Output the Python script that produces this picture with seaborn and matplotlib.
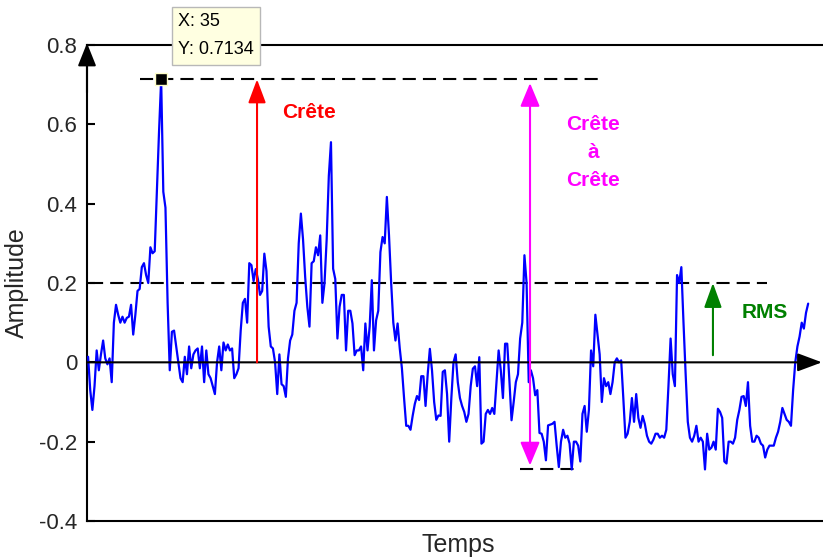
import numpy as np
import pandas as pd
import matplotlib
matplotlib.use("Agg")
import matplotlib.pyplot as plt
import seaborn as sns

# ---------------- data ----------------
amp_part1 = [0.014, -0.07, -0.12, -0.06, 0.03, -0.02, 0.02, 0.055, 0.01, -0.005,
             0.01, -0.05, 0.10, 0.145, 0.12, 0.10, 0.115, 0.10, 0.112, 0.115,
             0.145, 0.07, 0.12, 0.18, 0.185, 0.24, 0.25, 0.22, 0.20, 0.29,
             0.275, 0.28, 0.43, 0.58, 0.7134, 0.43, 0.39, 0.15, -0.02, 0.077,
             0.08, 0.04, 0.0, -0.04, -0.05, 0.014, -0.03, 0.04, -0.015, 0.02,
             0.03, 0.035, -0.015, 0.04, -0.05, 0.03]
amp_part2 = [-0.03, -0.04, -0.06, -0.08, 0.0, 0.04, -0.02, 0.05, 0.03, 0.045,
             0.03, 0.035, -0.04, -0.03, -0.015, 0.08, 0.15, 0.16, 0.10, 0.25,
             0.245, 0.205, 0.235, 0.21, 0.17, 0.18, 0.274, 0.23, 0.09, 0.04,
             0.035, 0.0, -0.08, 0.02, -0.055, -0.06, -0.087, 0.01, 0.055, 0.07,
             0.13, 0.15, 0.30, 0.375, 0.31, 0.215, 0.14, 0.09, 0.25, 0.255,
             0.29, 0.27, 0.32, 0.15, 0.20, 0.31]
amp_part3 = [0.47, 0.555, 0.236, 0.21, 0.06, 0.14, 0.17, 0.17, 0.03, 0.13,
             0.13, 0.098, 0.018, 0.03, 0.03, 0.04, -0.02, 0.098, 0.03, 0.09,
             0.207, 0.03, 0.106, 0.13, 0.278, 0.316, 0.30, 0.417, 0.32, 0.20,
             0.10, 0.055, 0.098, 0.035, -0.015, -0.09, -0.16, -0.16, -0.17, -0.135,
             -0.105, -0.085, -0.095, -0.035, -0.035, -0.11, -0.03, 0.034, -0.02, -0.10,
             -0.145, -0.134, -0.135, -0.024, -0.02, -0.08]
amp_part4 = [-0.2, -0.09, 0.0, 0.02, -0.05, -0.09, -0.11, -0.125, -0.15, -0.13,
             -0.06, -0.016, -0.01, -0.06, 0.013, -0.205, -0.2, -0.13, -0.12, -0.13,
             -0.115, -0.13, -0.05, 0.03, -0.02, -0.09, 0.047, 0.047, -0.045, -0.146,
             -0.1, -0.05, -0.03, 0.06, 0.1, 0.27, 0.2, -0.05, -0.02, -0.04,
             -0.083, -0.07, -0.178, -0.18, -0.2, -0.247, -0.159, -0.157, -0.155, -0.15,
             -0.21, -0.264, -0.2, -0.17, -0.19]
amp_part5 = [-0.185, -0.205, -0.27, -0.2, -0.2, -0.21, -0.25, -0.13, -0.11, -0.175,
             -0.12, 0.03, -0.01, 0.12, 0.07, 0.02, -0.1, -0.04, -0.06, -0.05,
             -0.08, -0.05, 0.0, 0.01, 0.0, 0.005, -0.09, -0.19, -0.18, -0.15,
             -0.09, -0.15, -0.08, -0.14, -0.165, -0.135, -0.155, -0.185, -0.2, -0.205,
             -0.195, -0.18, -0.18, -0.19, -0.185, -0.19, -0.17, -0.06, 0.06, -0.03,
             -0.06, 0.22, 0.2, 0.24, 0.1, -0.03]
amp_part6 = [-0.15, -0.19, -0.2, -0.185, -0.16, -0.2, -0.19, -0.2, -0.27, -0.18,
             -0.22, -0.215, -0.2, -0.22, -0.117, -0.125, -0.14, -0.25, -0.255, -0.2,
             -0.2, -0.205, -0.19, -0.145, -0.12, -0.087, -0.085, -0.11, -0.05, -0.16,
             -0.2, -0.2, -0.185, -0.19, -0.205, -0.21, -0.24, -0.22, -0.21, -0.21,
             -0.21, -0.19, -0.175, -0.15, -0.115, -0.13, -0.145, -0.15, -0.16, -0.07,
             0.0, 0.04, 0.065, 0.1, 0.085, 0.125, 0.148]

peak_x = 35
peak_y = 0.7134
rms_level = 0.2
trough_level = -0.268
yticks = [-0.4, -0.2, 0, 0.2, 0.4, 0.6, 0.8]
ytick_labels = ["-0.4", "-0.2", "0", "0.2", "0.4", "0.6", "0.8"]

amplitude = np.array(amp_part1 + amp_part2 + amp_part3 + amp_part4 + amp_part5 + amp_part6)
temps = np.arange(1, len(amplitude) + 1)
df = pd.DataFrame({"Temps": temps, "Amplitude": amplitude})

# ---------------- style ----------------
sns.set_theme(style="white")
plt.rcParams["font.family"] = ["Liberation Sans", "DejaVu Sans"]

W, H = 823, 560
fig = plt.figure(figsize=(W / 100, H / 100), dpi=100)
ax = fig.add_axes([87 / W, 39 / H, 736 / W, 476 / H])

sns.lineplot(data=df, x="Temps", y="Amplitude", ax=ax, color="#0000ff",
             linewidth=1.6, estimator=None, zorder=3)

ax.set_xlim(0.5, 342.9)
ax.set_ylim(-0.4, 0.8)
ax.set_xticks([])
ax.set_yticks(yticks)
ax.set_yticklabels(ytick_labels)
ax.tick_params(axis="y", direction="in", length=6, width=1.5, color="black",
               labelcolor="#262626", labelsize=16, pad=7, left=True)

for side in ["left", "top", "bottom"]:
    ax.spines[side].set_visible(True)
    ax.spines[side].set_color("black")
    ax.spines[side].set_linewidth(1.5)
ax.spines["right"].set_visible(False)

ax.set_xlabel("Temps", fontsize=18, color="#262626")
ax.xaxis.set_label_coords(0.504, -0.026)
ax.set_ylabel("Amplitude", fontsize=18, color="#262626")
ax.yaxis.set_label_coords(-0.079, 0.5)

# axis arrows
ax.annotate("", xy=(342.4, 0), xytext=(0.5, 0), annotation_clip=False,
            arrowprops=dict(arrowstyle="-|>,head_length=0.75,head_width=0.28",
                            mutation_scale=20, color="black", lw=1.5,
                            shrinkA=0, shrinkB=0), zorder=4)
ax.annotate("", xy=(0, 1.004), xycoords="axes fraction", xytext=(0, 0.9),
            textcoords="axes fraction", annotation_clip=False,
            arrowprops=dict(arrowstyle="-|>,head_length=0.7,head_width=0.28",
                            mutation_scale=20, color="black", lw=1.5,
                            shrinkA=0, shrinkB=0), zorder=4)

# dashed reference lines
dash = (0, (6.3, 3.4))
ax.hlines(peak_y, 25.2, 240.5, colors="black", linestyles=dash, linewidth=1.5, zorder=2)
ax.hlines(rms_level, 1.9, 316.8, colors="black", linestyles=dash, linewidth=1.5, zorder=2)
ax.hlines(trough_level, 201.9, 227.5, colors="black", linestyles=dash, linewidth=1.5, zorder=2)

# Crête arrow (red)
ax.annotate("", xy=(79.6, peak_y), xytext=(79.6, 0),
            arrowprops=dict(arrowstyle="-|>,head_length=0.72,head_width=0.27",
                            mutation_scale=20, color="red", lw=1.5,
                            shrinkA=0, shrinkB=0), zorder=5)
ax.text(104, 0.63, "Crête", color="red", fontsize=15, fontweight="bold",
        ha="center", va="center")

# Crête à Crête (magenta)
ax.annotate("", xy=(206.6, 0.704), xytext=(206.6, -0.26),
            arrowprops=dict(arrowstyle="<|-|>,head_length=0.72,head_width=0.3",
                            mutation_scale=20, color="#ff00ff", lw=1.5,
                            shrinkA=0, shrinkB=0), zorder=5)
ax.text(235.9, 0.529, "Crête\nà\nCrête", color="#ff00ff", fontsize=15,
        fontweight="bold", ha="center", va="center", linespacing=1.62,
        multialignment="center")

# RMS (green)
ax.annotate("", xy=(291.7, rms_level), xytext=(291.7, 0.018),
            arrowprops=dict(arrowstyle="-|>,head_length=0.75,head_width=0.27",
                            mutation_scale=20, color="#008000", lw=1.5,
                            shrinkA=0, shrinkB=0), zorder=5)
ax.text(315.9, 0.126, "RMS", color="#008000", fontsize=15, fontweight="bold",
        ha="center", va="center")

# data tip
ax.plot([peak_x], [peak_y], marker="s", markersize=8.5, markerfacecolor="black",
        markeredgecolor="#ffffc8", markeredgewidth=1, linestyle="none",
        zorder=6, clip_on=False)
ax.text(42.8, 0.88, f"X: {peak_x}\nY: {peak_y:.4f}", fontsize=13, color="black",
        ha="left", va="top", linespacing=1.85, clip_on=False, zorder=7,
        bbox=dict(boxstyle="square,pad=0.35", facecolor="#ffffe1",
                  edgecolor="#b8b8b8", linewidth=1))

fig.savefig("out.png", dpi=100)
